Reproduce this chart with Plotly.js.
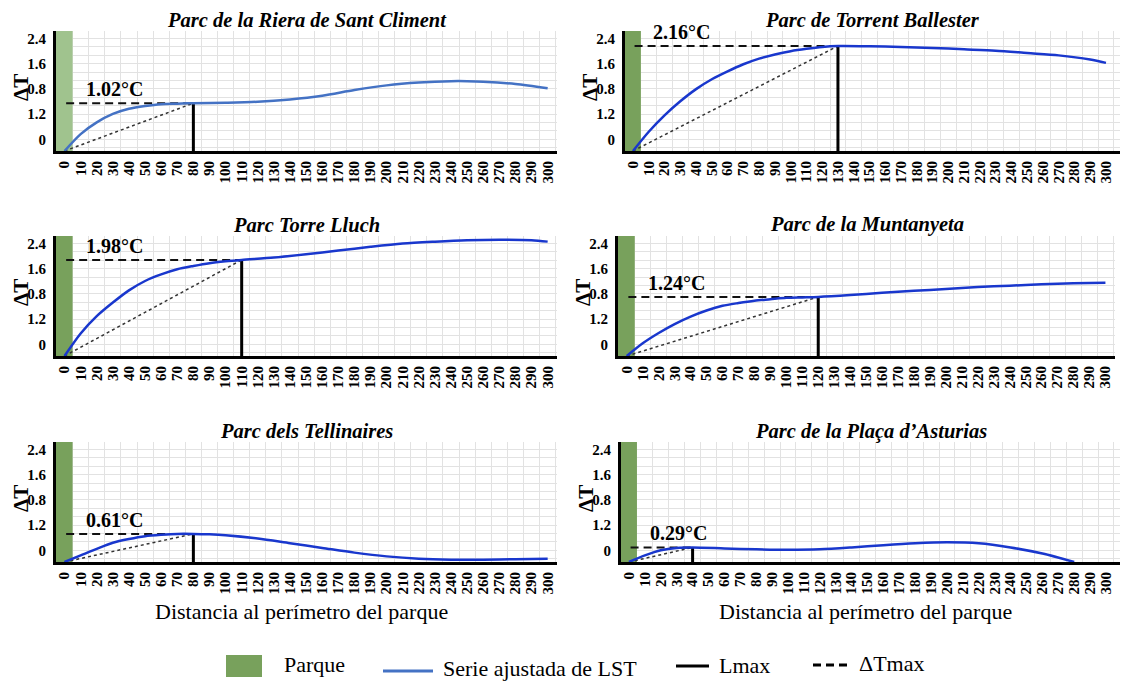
<!DOCTYPE html>
<html><head><meta charset="utf-8">
<script src="https://cdn.plot.ly/plotly-3.0.1.min.js"></script>
<style>html,body{margin:0;padding:0;background:#fff}#chart{width:1123px;height:682px}</style>
</head><body><div id="chart"></div>
<script>
// ---------------- DATA ----------------
const parkNames = ['Parc de la Riera de Sant Climent','Parc de Torrent Ballester','Parc Torre Lluch','Parc de la Muntanyeta','Parc dels Tellinaires','Parc de la Plaça d’Asturias'];
const lmaxValues = [80, 130, 110, 120, 80, 40];
const dtLabels = ['1.02°C','2.16°C','1.98°C','1.24°C','0.61°C','0.29°C'];
const parkEdge = 5;

const dist1 = [0,10,20,30,40,50,60,70,80,100,120,140,160,180,200,220,240,250,260,280,300];
const lst1  = [0,0.36,0.61,0.79,0.90,0.96,1.0,1.01,1.02,1.03,1.05,1.10,1.18,1.30,1.40,1.46,1.49,1.49,1.48,1.43,1.34];
const dist2 = [0,10,20,30,40,50,60,70,80,90,100,110,120,130,150,170,190,210,230,250,270,290,300];
const lst2  = [0,0.41,0.76,1.06,1.32,1.53,1.70,1.85,1.97,2.06,2.13,2.18,2.22,2.24,2.235,2.22,2.20,2.17,2.14,2.09,2.04,1.95,1.88];
const dist3 = [0,10,20,30,40,50,60,70,80,90,100,110,130,150,170,190,210,230,250,270,290,300];
const lst3  = [0,0.48,0.85,1.14,1.40,1.60,1.74,1.85,1.92,1.98,2.02,2.05,2.10,2.17,2.25,2.33,2.40,2.44,2.47,2.48,2.47,2.44];
const dist4 = [0,10,20,30,40,50,60,70,80,90,100,110,120,140,160,180,200,220,240,260,280,300];
const lst4  = [0,0.27,0.49,0.68,0.84,0.97,1.07,1.13,1.18,1.21,1.24,1.25,1.26,1.30,1.35,1.39,1.43,1.47,1.50,1.53,1.55,1.56];
const dist5 = [0,10,20,30,40,50,60,70,80,90,100,120,140,160,180,200,220,240,260,280,300];
const lst5  = [0,0.14,0.28,0.41,0.49,0.55,0.58,0.60,0.60,0.59,0.57,0.50,0.40,0.30,0.20,0.12,0.07,0.05,0.05,0.06,0.07];
const dist6 = [0,10,20,30,40,60,80,100,120,140,160,180,200,220,240,260,280];
const lst6  = [0,0.14,0.25,0.30,0.31,0.29,0.27,0.26,0.27,0.31,0.36,0.40,0.42,0.40,0.31,0.18,0.0];

const yTickText = ['0','1.2','0.8','1.6','2.4'];
const xAxisTitle = 'Distancia al perímetro del parque';
const legendLabels = ['Parque','Serie ajustada de LST','Lmax','ΔTmax'];

// ---------------- STYLE / LAYOUT ----------------
const W = 1123, H = 682;
const px = v => v / W, py = v => 1 - v / H;
const dists = [dist1,dist2,dist3,dist4,dist5,dist6];
const lsts = [lst1,lst2,lst3,lst4,lst5,lst6];
const rowsPx = [[31,151],[236,356],[442,562]];
const colsPx = [[56,557],[625,1120],[56,557],[618,1115],[56,557],[621,1120]];
const xRanges = [[-5.3,305.8],[-5.07,308.9],[-5.3,305.8],[-5.5,306],[-5.3,305.8],[-5.03,308.8]];
const yRange = [0, 2.56];
const tickStep = 0.5376;
const yTickVals = [0.25, 0.25+tickStep, 0.25+2*tickStep, 0.25+3*tickStep, 2.4];
const lineColors = ['rgb(68,114,196)','rgb(25,55,205)','rgb(25,55,205)','rgb(25,55,205)','rgb(25,55,205)','rgb(25,55,205)'];
const greenColors = ['rgb(160,195,142)','rgb(120,161,92)','rgb(120,161,92)','rgb(120,161,92)','rgb(120,161,92)','rgb(120,161,92)'];
const serif = 'Liberation Serif, Times New Roman, serif';

const traces = [];
const layout = {
  width: W, height: H, margin: {l:0,r:0,t:0,b:0},
  paper_bgcolor: '#fff', plot_bgcolor: '#fff',
  showlegend: false, shapes: [], annotations: [],
  font: {family: serif, color: '#000'}
};

for (let i = 0; i < 6; i++) {
  const r = Math.floor(i / 2);
  const n = i + 1;
  const xa = 'xaxis' + (n === 1 ? '' : n), ya = 'yaxis' + (n === 1 ? '' : n);
  const xr = 'x' + (n === 1 ? '' : n), yr = 'y' + (n === 1 ? '' : n);
  const [l, rr] = colsPx[i];
  const [t, b] = rowsPx[r];
  const xRange = xRanges[i];
  layout[xa] = {
    domain: [px(l), px(rr)], range: xRange, anchor: yr,
    tickmode: 'linear', tick0: 0, dtick: 10, tickangle: -90,
    tickfont: {family: serif, size: 15, weight: 'bold', color: '#000'},
    showgrid: false, zeroline: false, showline: true, linecolor: '#000', linewidth: 3,
    ticks: '', ticklabelstandoff: 1, ticklabeloverflow: 'allow',
    minor: {tickmode: 'linear', tick0: 5, dtick: 10, showgrid: true, gridcolor: '#e2e2e2', gridwidth: 1, ticks: ''}
  };
  layout[ya] = {
    domain: [py(b), py(t)], range: yRange, anchor: xr,
    tickmode: 'array', tickvals: yTickVals, ticktext: yTickText,
    tickfont: {family: serif, size: 15, weight: 'bold', color: '#000'},
    showgrid: false, zeroline: false, showline: true, linecolor: '#000', linewidth: 3,
    ticks: '', ticklabelstandoff: 4, ticklabeloverflow: 'allow',
    minor: {tickmode: 'linear', tick0: 0.25, dtick: tickStep/3, showgrid: true, gridcolor: '#e2e2e2', gridwidth: 1, ticks: ''}
  };
  // park band (filled trace)
  traces.push({x: [xRange[0], parkEdge, parkEdge, xRange[0]], y: [yRange[0], yRange[0], yRange[1], yRange[1]],
    xaxis: xr, yaxis: yr, mode: 'lines', fill: 'toself', fillcolor: greenColors[i], line: {width: 0}, hoverinfo: 'skip'});

  const xs = dists[i], ys = lsts[i];
  const lm = lmaxValues[i];
  const ym = ys[xs.indexOf(lm)];
  // dotted
  traces.push({x: [xs[0], lm], y: [ys[0], ym], xaxis: xr, yaxis: yr, mode: 'lines', hoverinfo: 'skip',
    line: {color: '#333', width: 1.5, dash: 'dot'}});
  // dashed ΔTmax
  traces.push({x: [xs[0] + 1, lm], y: [ym, ym], xaxis: xr, yaxis: yr, mode: 'lines', hoverinfo: 'skip',
    line: {color: '#111', width: 2, dash: '8px,5px'}});
  // Lmax
  traces.push({x: [lm, lm], y: [0, ym], xaxis: xr, yaxis: yr, mode: 'lines', hoverinfo: 'skip',
    line: {color: '#000', width: 3}});
  // fitted LST curve
  traces.push({x: xs, y: ys, xaxis: xr, yaxis: yr, mode: 'lines', line: {color: lineColors[i], width: 2.5, shape: 'spline', smoothing: 0.8}});

  // ΔTmax label
  layout.annotations.push({xref: xr, yref: yr, x: 31, y: ym, yshift: 14, text: '<b>' + dtLabels[i] + '</b>',
    showarrow: false, font: {family: serif, size: 20, color: '#000'}, xanchor: 'center', yanchor: 'middle'});
  // title
  layout.annotations.push({xref: 'paper', yref: 'paper', x: px((l + rr) / 2), y: py(t - 11),
    text: '<b><i>' + parkNames[i] + '</i></b>', showarrow: false, xanchor: 'center', yanchor: 'middle',
    font: {family: serif, size: 20.5, color: '#000'}});
  // ΔT axis label
  layout.annotations.push({xref: 'paper', yref: 'paper', x: px(l - 35), y: py((t + b) / 2 - 3),
    text: '<b>ΔT</b>', textangle: -90, showarrow: false, xanchor: 'center', yanchor: 'middle',
    font: {family: serif, size: 21, color: '#000'}});
  if (r === 2) {
    layout.annotations.push({xref: 'paper', yref: 'paper', x: px((l + rr) / 2 - 5), y: py(611),
      text: xAxisTitle, showarrow: false, xanchor: 'center', yanchor: 'middle',
      font: {family: serif, size: 22, color: '#000'}});
  }
}

// legend (manual)
layout.shapes.push({type: 'rect', xref: 'paper', yref: 'paper', x0: px(226), x1: px(262), y0: py(677), y1: py(655),
  fillcolor: 'rgb(120,161,92)', line: {width: 0}});
layout.shapes.push({type: 'line', xref: 'paper', yref: 'paper', x0: px(383), x1: px(433), y0: py(671), y1: py(671),
  line: {color: 'rgb(68,114,196)', width: 3}});
layout.shapes.push({type: 'line', xref: 'paper', yref: 'paper', x0: px(676), x1: px(709), y0: py(666), y1: py(666),
  line: {color: '#000', width: 3}});
layout.shapes.push({type: 'line', xref: 'paper', yref: 'paper', x0: px(813), x1: px(848), y0: py(665), y1: py(665),
  line: {color: '#000', width: 3, dash: '8px,5px'}});
const legTextX = [282, 441, 717, 857];
const legTextY = [664, 668, 665, 663];
for (let k = 0; k < 4; k++) {
  layout.annotations.push({xref: 'paper', yref: 'paper', x: px(legTextX[k]), y: py(legTextY[k]), text: legendLabels[k],
    showarrow: false, xanchor: 'left', yanchor: 'middle', font: {family: serif, size: 22, color: '#000'}});
}

Plotly.newPlot('chart', traces, layout, {staticPlot: true, displayModeBar: false});
</script>
</body></html>
